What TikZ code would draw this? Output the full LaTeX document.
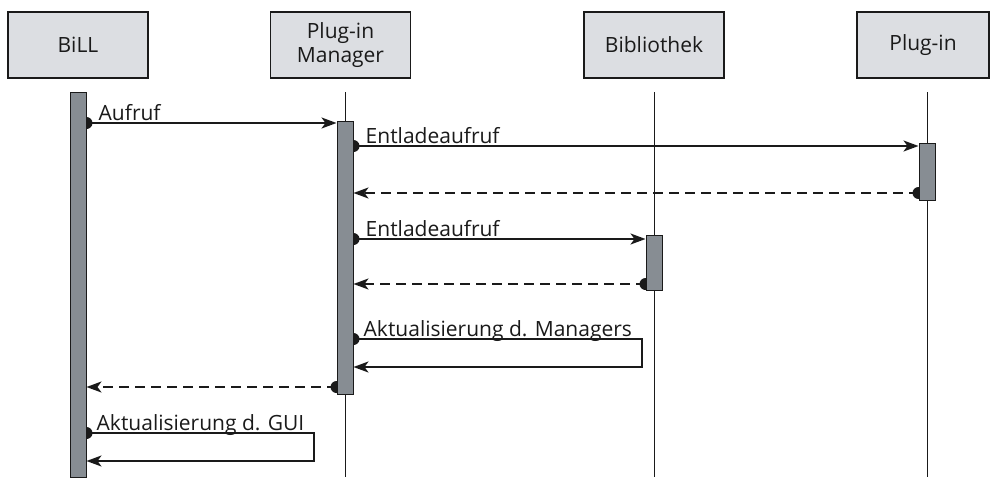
\documentclass[tikz,border=0pt]{standalone}
\usepackage{fontspec}
\setmainfont{Open Sans}
\usetikzlibrary{arrows.meta}
\definecolor{headfill}{HTML}{DCDEE2}
\definecolor{barfill}{HTML}{878D93}
\definecolor{ink}{HTML}{1A1A1A}
\begin{document}
\begin{tikzpicture}[x=1pt,y=-1pt,
  head/.style={draw=ink,line width=1.1pt,fill=headfill,minimum width=140pt,minimum height=66pt,inner sep=0pt,align=center,font=\fontsize{21}{24}\selectfont,text=ink},
  actbar/.style={draw=ink,line width=1pt,fill=barfill,minimum width=16pt,inner sep=0pt},
  life/.style={draw=ink,line width=0.8pt},
  msg/.style={draw=ink,line width=2pt,-{Stealth[length=15pt,width=11pt,inset=4pt]}},
  ret/.style={msg,dash pattern=on 10pt off 6pt},
  dot/.style={fill=ink},
  lbl/.style={font=\fontsize{21}{24}\selectfont,text=ink,anchor=base west,inner sep=0pt}
]
\useasboundingbox (0,0) rectangle (990,477);
\begin{scope}
\clip (0,0) rectangle (990,477);
% heads
\node[head] (hbill) at (78,45) {BiLL};
\node[head] (hman) at (340.5,45) {Plug-in\\Manager};
\node[head] (hbib) at (654,45) {Bibliothek};
\node[head,minimum width=132pt] (hplug) at (923,45) {Plug-in};
% lifelines
\draw[life] (345,92) coordinate (lman) -- (345,477);
\draw[life] (654,92) coordinate (lbib) -- (654,477);
\draw[life] (927,92) coordinate (lplug) -- (927,477);
% message heights
\coordinate (m1) at (0,123);
\coordinate (m2) at (0,146);
\coordinate (m3) at (0,193);
\coordinate (m4) at (0,239);
\coordinate (m5) at (0,284);
\coordinate (m6) at (0,339);
\coordinate (m7) at (0,367);
\coordinate (m8) at (0,387);
\coordinate (m9) at (0,433);
\coordinate (m10) at (0,461);
% bar geometry (invisible placeholders for naming)
\path (78,284.5) node[actbar,draw=none,fill=none,minimum height=385pt] (bbill) {};
\path (345,257.5) node[actbar,draw=none,fill=none,minimum height=273pt] (bman) {};
\path (927,171.5) node[actbar,draw=none,fill=none,minimum height=57pt] (bplug) {};
\path (654,262.5) node[actbar,draw=none,fill=none,minimum height=55pt] (bbib) {};
% messages
\draw[msg] (bbill.east |- m1) -- (bman.west |- m1);
\fill[dot] (bbill.east |- m1) circle (6pt);
\draw[msg] (bman.east |- m2) -- (bplug.west |- m2);
\fill[dot] (bman.east |- m2) circle (6pt);
\draw[ret] (bplug.west |- m3) -- (bman.east |- m3);
\fill[dot] (bplug.west |- m3) circle (6pt);
\draw[msg] (bman.east |- m4) -- (bbib.west |- m4);
\fill[dot] (bman.east |- m4) circle (6pt);
\draw[ret] (bbib.west |- m5) -- (bman.east |- m5);
\fill[dot] (bbib.west |- m5) circle (6pt);
\draw[msg] (bman.east |- m6) -- ++(288,0) |- (bman.east |- m7);
\fill[dot] (bman.east |- m6) circle (6pt);
\draw[ret] (bman.west |- m8) -- (bbill.east |- m8);
\fill[dot] (bman.west |- m8) circle (6pt);
\draw[msg] (bbill.east |- m9) -- ++(227,0) |- (bbill.east |- m10);
\fill[dot] (bbill.east |- m9) circle (6pt);
% bars
\node[actbar,minimum height=385pt] at (bbill) {};
\node[actbar,minimum height=273pt] at (bman) {};
\node[actbar,minimum height=57pt] at (bplug) {};
\node[actbar,minimum height=55pt] at (bbib) {};
% labels
\node[lbl] (l1) at ([shift={(12,-3)}]bbill.east |- m1) {Aufruf};
\node[lbl] (l2) at ([shift={(12,-3)}]bman.east |- m2) {Entladeaufruf};
\node[lbl] (l4) at ([shift={(12,-3)}]bman.east |- m4) {Entladeaufruf};
\node[lbl] (l6) at ([shift={(10,-3)}]bman.east |- m6) {Aktualisierung d. Managers};
\node[lbl] (l9) at ([shift={(10,-3)}]bbill.east |- m9) {Aktualisierung d. GUI};
\end{scope}
\end{tikzpicture}
\end{document}
